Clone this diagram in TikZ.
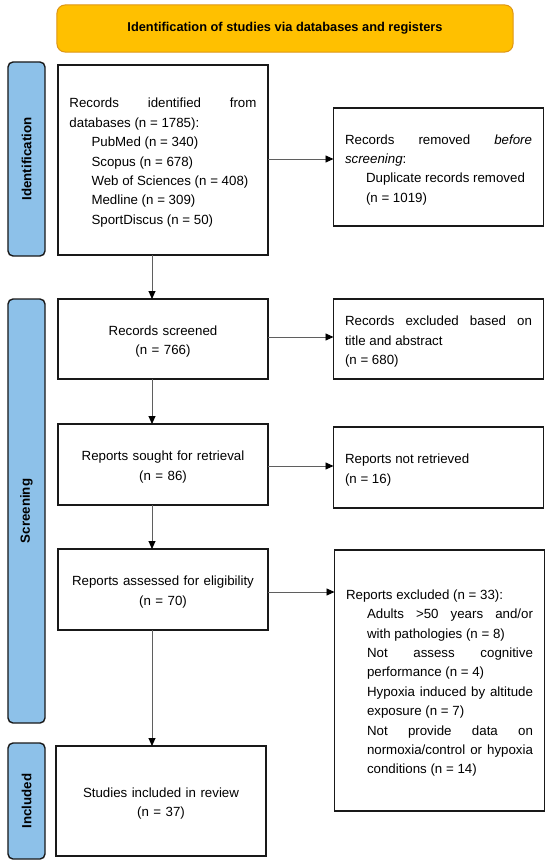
\documentclass[tikz,border=0pt]{standalone}
\usepackage{fontspec}
\setmainfont{Liberation Sans}
\usetikzlibrary{arrows.meta}
\tolerance=10000 \hyphenpenalty=10000 \exhyphenpenalty=10000 \parindent=0pt \hbadness=10000
\definecolor{bannerfill}{RGB}{255,192,0}
\definecolor{bannerdraw}{RGB}{222,150,20}
\definecolor{sidefill}{RGB}{141,193,233}
\definecolor{boxline}{RGB}{25,25,25}
\definecolor{arrline}{RGB}{95,95,95}
\newcommand\firstlinestrut{\rule{0pt}{15bp}}
\begin{document}
\begin{tikzpicture}[x=1bp,y=-1bp,
  every node/.style={inner sep=0pt, outer sep=0pt},
  txt/.style={font=\fontsize{13.3bp}{19.4bp}\selectfont},
  box/.style={txt, draw=boxline, line width=1.5bp, fill=white, text width=187bp, inner xsep=11.5bp, execute at begin node=\firstlinestrut},
  jbox/.style={box, align=justify},
  cbox/.style={box, align=center},
  side/.style={draw=boxline, line width=1.4bp, fill=sidefill, rounded corners=5bp, rotate=90, minimum height=37bp, font=\bfseries\fontsize{13.3bp}{16bp}\selectfont},
  banner/.style={draw=bannerdraw, line width=1bp, fill=bannerfill, rounded corners=8bp, minimum width=456bp, minimum height=47bp, font=\bfseries\fontsize{12.8bp}{15bp}\selectfont},
  arr/.style={draw=arrline, line width=0.9bp, -{Triangle[length=8bp,width=7bp,color=black]}}]
\useasboundingbox[fill=white] (0,0) rectangle (550,866);

\node[banner] (title) at (285,28.5) {Identification of studies via databases and registers};

\node[side, minimum width=194bp] (idlab) at (26.5,159) {Identification};
\node[side, minimum width=424bp] (scrlab) at (26.5,511) {Screening};
\node[side, minimum width=116bp] (inclab) at (26.5,801) {Included};

\node[jbox, minimum height=190bp] (ident) at (163,160) {Records identified from\linebreak databases (n = 1785):\par\leftskip=22bp PubMed (n = 340)\par Scopus (n = 678)\par Web of Sciences (n = 408)\par Medline (n = 309)\par SportDiscus (n = 50)\par};

\node[jbox, minimum height=118bp] (removed) at (438.5,167) {Records removed \textit{before}\linebreak \textit{screening}:\par\leftskip=21bp Duplicate records removed\par (n = 1019)\par};

\node[cbox, minimum height=80bp] (screened) at (163,339) {Records screened\\(n = 766)};

\node[jbox, minimum height=80bp] (excl1) at (438.5,339) {Records excluded based on\linebreak title and abstract\par (n = 680)\par};

\node[cbox, minimum height=81bp] (sought) at (163,464.5) {Reports sought for retrieval\\(n = 86)};

\node[jbox, minimum height=81bp] (notret) at (438.5,467.5) {Reports not retrieved\par (n = 16)\par};

\node[cbox, minimum height=81bp] (assessed) at (163,589.5) {Reports assessed for eligibility\\(n = 70)};

\node[jbox, minimum height=261bp] (excl2) at (439.5,680.5) {Reports excluded (n = 33):\par\leftskip=21bp Adults >50 years and/or\linebreak with pathologies (n = 8)\par Not assess cognitive\linebreak performance (n = 4)\par Hypoxia induced by altitude\linebreak exposure (n = 7)\par Not provide data on\linebreak normoxia/control or hypoxia\linebreak conditions (n = 14)\par};

\node[cbox, minimum height=110bp] (studies) at (161,801) {Studies included in review\\(n = 37)};

\coordinate (ax) at (152,0);
\draw[arr] (ident.south -| ax) -- (screened.north -| ax);
\draw[arr] (screened.south -| ax) -- (sought.north -| ax);
\draw[arr] (sought.south -| ax) -- (assessed.north -| ax);
\draw[arr] (assessed.south -| ax) -- (studies.north -| ax);

\draw[arr] ([yshift=1bp]ident.east) -- ([yshift=1bp]ident.east -| removed.west);
\draw[arr] ([yshift=2bp]screened.east) -- ([yshift=2bp]screened.east -| excl1.west);
\draw[arr] ([yshift=-1.5bp]sought.east) -- ([yshift=-1.5bp]sought.east -| notret.west);
\draw[arr] ([yshift=-2.5bp]assessed.east) -- ([yshift=-2.5bp]assessed.east -| excl2.west);
\end{tikzpicture}
\end{document}
